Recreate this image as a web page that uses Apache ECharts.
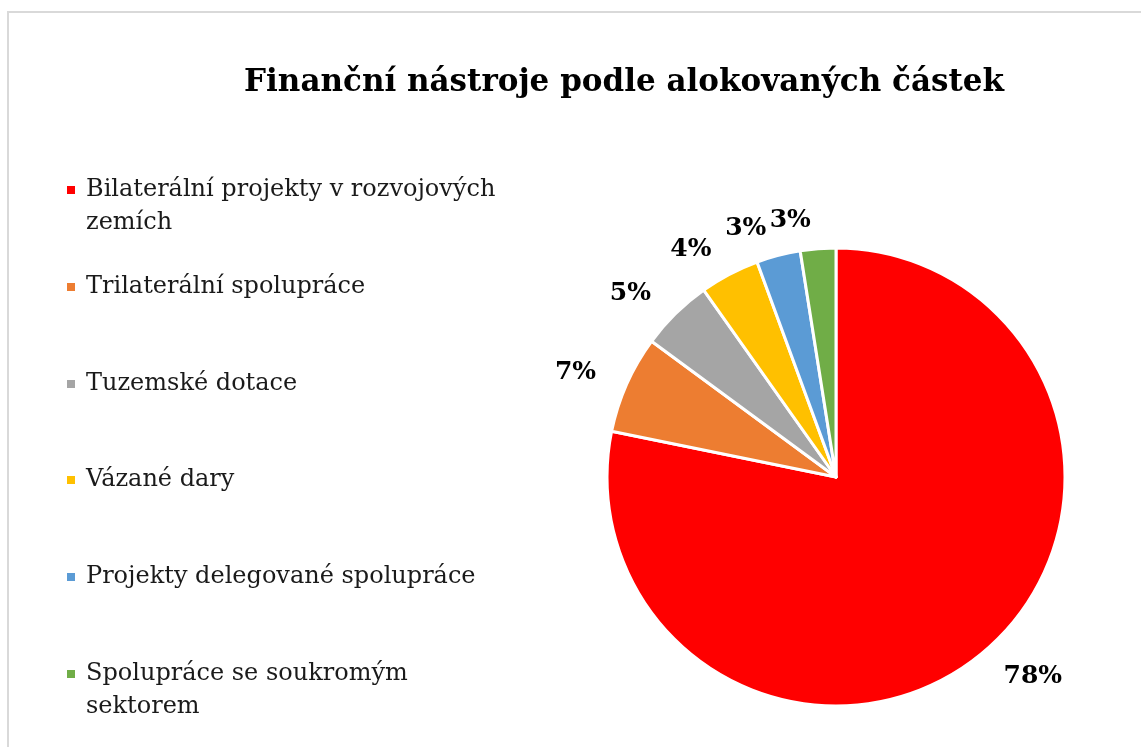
<!DOCTYPE html>
<html>
<head>
<meta charset="utf-8">
<script src="https://cdn.jsdelivr.net/npm/echarts@6/dist/echarts.min.js"></script>
<style>
  html, body { margin: 0; padding: 0; background: #fff; }
  #chart { width: 1141px; height: 747px; }
</style>
</head>
<body>
<div id="chart"></div>
<script>
// kategorie a podíly (v %)
const categories = [
  'Bilaterální projekty v rozvojových zemích',
  'Trilaterální spolupráce',
  'Tuzemské dotace',
  'Vázané dary',
  'Projekty delegované spolupráce',
  'Spolupráce se soukromým sektorem'
]
const shares = [78.2, 6.9, 5.1, 4.2, 3.1, 2.5]
const colors = ['#ff0000', '#ed7d31', '#a5a5a5', '#ffc000', '#5b9bd5', '#70ad47']
// řádky legendy (zalomení jako v originále)
const legendLines = {
  'Bilaterální projekty v rozvojových zemích': 'Bilaterální projekty v rozvojových\nzemích',
  'Spolupráce se soukromým sektorem': 'Spolupráce se soukromým\nsektorem'
}

const chart = echarts.init(document.getElementById('chart'))

const lineH = 33
const legendCenters = [190, 287, 384, 480, 577, 674]
const legends = categories.map((name, i) => {
  const twoLines = !!legendLines[name]
  return {
    data: [name],
    left: 65,
    top: legendCenters[i] - (twoLines ? 49.5 : 16.5),
    padding: 0,
    itemWidth: 10,
    itemHeight: 10,
    icon: 'rect',
    selectedMode: false,
    // prázdný první řádek, aby ikona seděla u prvního řádku textu
    formatter: n => (legendLines[n] ? '\n' + legendLines[n] : n),
    textStyle: {
      fontFamily: 'DejaVu Serif',
      fontSize: 24,
      lineHeight: lineH,
      color: '#1a1a1a',
      padding: [0, 0, 0, 5]
    }
  }
})

const option = {
  backgroundColor: '#fff',
  animation: false,
  color: colors,
  title: {
    text: 'Finanční nástroje podle alokovaných částek',
    left: 619,
    top: 62,
    textAlign: 'center',
    textStyle: {
      fontFamily: 'DejaVu Serif',
      fontWeight: 'bold',
      fontSize: 31,
      color: '#000'
    }
  },
  legend: legends,
  graphic: [
    {
      type: 'polyline',
      shape: { points: [[8, 747], [8, 12], [1141, 12]] },
      style: { stroke: '#d9d9d9', lineWidth: 2, fill: null }
    }
  ],
  series: [
    {
      type: 'pie',
      center: [836, 477],
      radius: 229,
      startAngle: 90,
      clockwise: true,
      avoidLabelOverlap: false,
      itemStyle: { borderColor: '#fff', borderWidth: 3 },
      label: {
        show: true,
        position: 'outside',
        formatter: p => Math.round(p.percent) + '%',
        fontFamily: 'DejaVu Serif',
        fontWeight: 'bold',
        fontSize: 25,
        color: '#000'
      },
      labelLine: { show: false, length: 28, length2: 0 },
      data: categories.map((name, i) => ({ name, value: shares[i] }))
    }
  ]
}

chart.setOption(option)
</script>
</body>
</html>
